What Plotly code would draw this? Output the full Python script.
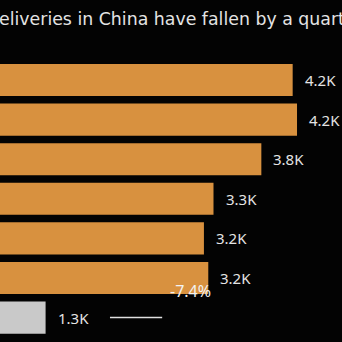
import plotly.graph_objects as go

# Deliveries per period (units), top to bottom
categories = ["P1", "P2", "P3", "P4", "P5", "P6", "P7"]
deliveries = [4180, 4230, 3820, 3270, 3160, 3210, 1340]
bar_colors = ["#D8913F"] * 6 + ["#C9C9C9"]

# Change callout and its guide line
change_label = "-7.4%"
change_anchor = 3210
guide_span = [2080, 2680]

title_text = "deliveries in China have fallen by a quarter"

FONT = "Noto Sans"
TITLE_FONT = "DejaVu Sans"
TEXT = "#E4E4E4"


def fmt_k(v):
    return f"{v / 1000:.1f}K"


fig = go.Figure()
fig.add_trace(go.Bar(
    x=deliveries,
    y=categories,
    orientation="h",
    marker=dict(color=bar_colors, line=dict(width=0)),
    hoverinfo="skip",
))

annotations = [
    dict(x=v, y=c, xref="x", yref="y", text=fmt_k(v), showarrow=False,
         xanchor="left", xshift=10, font=dict(family=FONT, size=15, color=TEXT))
    for v, c in zip(deliveries, categories)
]
annotations.append(dict(
    x=change_anchor, y=5.32, xref="x", yref="y", text=change_label, showarrow=False,
    xanchor="right", xshift=5, font=dict(family=FONT, size=16, color="#F2F2F2")))
annotations.append(dict(
    x=0, y=1, xref="paper", yref="paper", yanchor="top", xanchor="left",
    xshift=-14, yshift=-7, text=title_text, showarrow=False,
    font=dict(family=TITLE_FONT, size=17.35, color=TEXT)))

fig.add_shape(type="line", xref="x", yref="y",
              x0=guide_span[0], x1=guide_span[1], y0=6, y1=6,
              line=dict(color="#E0E0E0", width=1.5))

fig.update_layout(
    width=342, height=342,
    margin=dict(l=0, r=0, t=0, b=0),
    paper_bgcolor="#030303", plot_bgcolor="#030303",
    bargap=0.19,
    showlegend=False,
    annotations=annotations,
    xaxis=dict(range=[816, 4747], visible=False, fixedrange=True),
    yaxis=dict(range=[6.616, -2.02], visible=False, fixedrange=True,
               type="category", categoryorder="array", categoryarray=categories),
)

fig.write_html("out.html", config={"displayModeBar": False})
